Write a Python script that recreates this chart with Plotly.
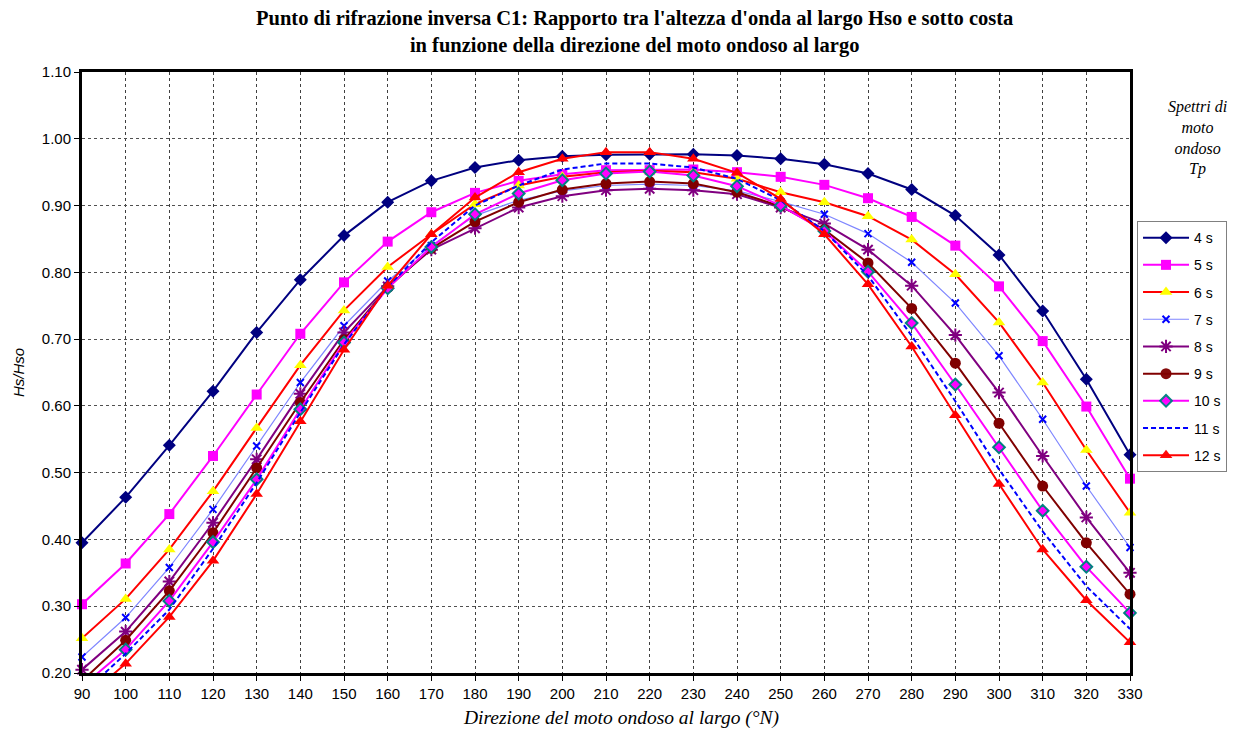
import plotly.graph_objects as go

# Wave direction offshore (°N)
directions = [90, 100, 110, 120, 130, 140, 150, 160, 170, 180, 190, 200, 210,
              220, 230, 240, 250, 260, 270, 280, 290, 300, 310, 320, 330]

# Hs/Hso for each peak period Tp
hs_4s = [0.395, 0.463, 0.541, 0.622, 0.710, 0.789, 0.855, 0.905, 0.937, 0.957, 0.968, 0.974, 0.976,
         0.977, 0.977, 0.975, 0.970, 0.962, 0.948, 0.924, 0.885, 0.826, 0.742, 0.640, 0.527]
hs_5s = [0.303, 0.364, 0.438, 0.525, 0.617, 0.708, 0.785, 0.846, 0.890, 0.919, 0.937, 0.947, 0.953,
         0.953, 0.954, 0.950, 0.943, 0.931, 0.911, 0.883, 0.840, 0.779, 0.697, 0.599, 0.491]
hs_6s = [0.252, 0.311, 0.385, 0.472, 0.567, 0.661, 0.743, 0.808, 0.857, 0.902, 0.930, 0.943, 0.950,
         0.952, 0.950, 0.940, 0.920, 0.905, 0.884, 0.849, 0.797, 0.725, 0.635, 0.534, 0.440]
hs_7s = [0.224, 0.283, 0.358, 0.445, 0.540, 0.635, 0.720, 0.787, 0.840, 0.885, 0.908, 0.922, 0.930,
         0.932, 0.930, 0.922, 0.906, 0.887, 0.858, 0.815, 0.754, 0.675, 0.580, 0.480, 0.388]
hs_8s = [0.205, 0.262, 0.337, 0.425, 0.520, 0.618, 0.710, 0.779, 0.834, 0.866, 0.897, 0.914, 0.923,
         0.925, 0.923, 0.917, 0.897, 0.873, 0.834, 0.780, 0.706, 0.620, 0.525, 0.433, 0.350]
hs_9s = [0.188, 0.249, 0.323, 0.410, 0.507, 0.605, 0.699, 0.777, 0.836, 0.876, 0.905, 0.924, 0.933,
         0.936, 0.933, 0.920, 0.899, 0.864, 0.814, 0.746, 0.664, 0.574, 0.480, 0.395, 0.318]
hs_10s = [0.180, 0.235, 0.308, 0.396, 0.490, 0.595, 0.695, 0.776, 0.838, 0.887, 0.918, 0.938, 0.948,
          0.951, 0.945, 0.929, 0.900, 0.862, 0.801, 0.724, 0.632, 0.538, 0.443, 0.359, 0.290]
hs_11s = [0.168, 0.229, 0.295, 0.386, 0.485, 0.590, 0.692, 0.778, 0.845, 0.900, 0.930, 0.954, 0.963,
          0.963, 0.957, 0.940, 0.908, 0.862, 0.795, 0.705, 0.607, 0.505, 0.412, 0.330, 0.266]
hs_12s = [0.158, 0.214, 0.284, 0.368, 0.468, 0.577, 0.684, 0.780, 0.857, 0.912, 0.950, 0.970, 0.980,
          0.980, 0.970, 0.949, 0.910, 0.857, 0.782, 0.689, 0.586, 0.483, 0.385, 0.309, 0.246]

series_names = ["4 s", "5 s", "6 s", "7 s", "8 s", "9 s", "10 s", "11 s", "12 s"]
series_values = [hs_4s, hs_5s, hs_6s, hs_7s, hs_8s, hs_9s, hs_10s, hs_11s, hs_12s]

y_ticks = [0.20, 0.30, 0.40, 0.50, 0.60, 0.70, 0.80, 0.90, 1.00, 1.10]
Y_MIN, Y_MAX = 0.20, 1.10

styles = [
    dict(line=dict(color="#000080", width=2),
         marker=dict(symbol="diamond", size=10, color="#000080", line=dict(width=0))),
    dict(line=dict(color="#FF00FF", width=2),
         marker=dict(symbol="square", size=10, color="#FF00FF", line=dict(width=0))),
    dict(line=dict(color="#FF0000", width=2),
         marker=dict(symbol="triangle-up", size=11, color="#FFFF00", line=dict(width=0))),
    dict(line=dict(color="#7F86FF", width=1.2),
         marker=dict(symbol="x-thin-open", size=7, color="#0000FF", line=dict(width=2, color="#0000FF"))),
    dict(line=dict(color="#800080", width=2),
         marker=dict(symbol="asterisk-open", size=11, color="#800080", line=dict(width=2, color="#800080"))),
    dict(line=dict(color="#800000", width=2),
         marker=dict(symbol="circle", size=11, color="#800000", line=dict(width=0))),
    dict(line=dict(color="#FF00FF", width=2),
         marker=dict(symbol="diamond", size=9, color="#FF00FF", line=dict(width=2, color="#008080"))),
    dict(line=dict(color="#0000FF", width=2, dash="5px,3px"), marker=None),
    dict(line=dict(color="#FF0000", width=2),
         marker=dict(symbol="triangle-up", size=11, color="#FF0000", line=dict(width=0))),
]

fig = go.Figure()
for name, vals, st in zip(series_names, series_values, styles):
    kw = dict(x=directions, y=vals, name=name, line=st["line"], legendgroup=name,
              cliponaxis=False)
    if st["marker"] is None:
        kw["mode"] = "lines"
    else:
        mk = dict(st["marker"])
        # hide markers that fall below the axis minimum
        mk["opacity"] = [1 if v >= Y_MIN else 0 for v in vals]
        kw["mode"] = "lines+markers"
        kw["marker"] = mk
    fig.add_trace(go.Scatter(**kw))

serif = "Liberation Serif, Times New Roman, serif"
sans = "Liberation Sans, Arial, sans-serif"

fig.update_layout(
    width=1241, height=740,
    margin=dict(l=82, r=111, t=72, b=67),
    paper_bgcolor="white", plot_bgcolor="white",
    font=dict(family=sans, size=15, color="black"),
    showlegend=True,
    legend=dict(
        x=1.0067, xanchor="left", y=0.752, yanchor="top",
        bgcolor="white", bordercolor="#808080", borderwidth=1,
        font=dict(family=sans, size=14, color="black"),
        traceorder="grouped", tracegroupgap=6,
        itemwidth=46,
    ),
    annotations=[
        dict(text="<b>Punto di rifrazione inversa C1: Rapporto tra l'altezza d'onda al largo Hso e sotto costa"
                  "<br>in funzione della direzione del moto ondoso al largo</b>",
             xref="paper", yref="paper", x=0.527, y=1.111, xanchor="center", yanchor="top",
             showarrow=False, align="center",
             font=dict(family=serif, size=20.5, color="black")),
        dict(text="<i>Spettri di<br>moto<br>ondoso<br>Tp</i>", xref="paper", yref="paper",
             x=1.064, y=0.96, xanchor="center", yanchor="top", showarrow=False,
             align="center",
             font=dict(family=serif, size=16, color="black")),
        dict(text="<i>Direzione del moto ondoso al largo (°N)</i>", xref="paper", yref="paper",
             x=0.514, y=-0.075, xanchor="center", yanchor="middle", showarrow=False,
             font=dict(family=serif, size=19.5, color="black")),
    ],
)

fig.update_xaxes(
    range=[90, 330], tickmode="array", tickvals=directions,
    ticktext=[str(d) for d in directions],
    showline=True, linecolor="black", linewidth=3, mirror=True,
    ticks="outside", ticklen=5, tickcolor="black",
    showgrid=True, gridcolor="#404040", gridwidth=1, griddash="dot",
    zeroline=False,
    tickfont=dict(family=sans, size=15),
)
fig.update_yaxes(
    range=[Y_MIN, Y_MAX], tickmode="array", tickvals=y_ticks,
    ticktext=[f"{v:.2f}" for v in y_ticks],
    showline=True, linecolor="black", linewidth=3, mirror=True,
    ticks="outside", ticklen=5, tickcolor="black",
    showgrid=True, gridcolor="#505050", gridwidth=1, griddash="dot",
    zeroline=False,
    tickfont=dict(family=sans, size=15),
    title=dict(text="<i>Hs/Hso</i>",
               font=dict(family=sans, size=15),
               standoff=14),
)

fig.write_html("out.html")
